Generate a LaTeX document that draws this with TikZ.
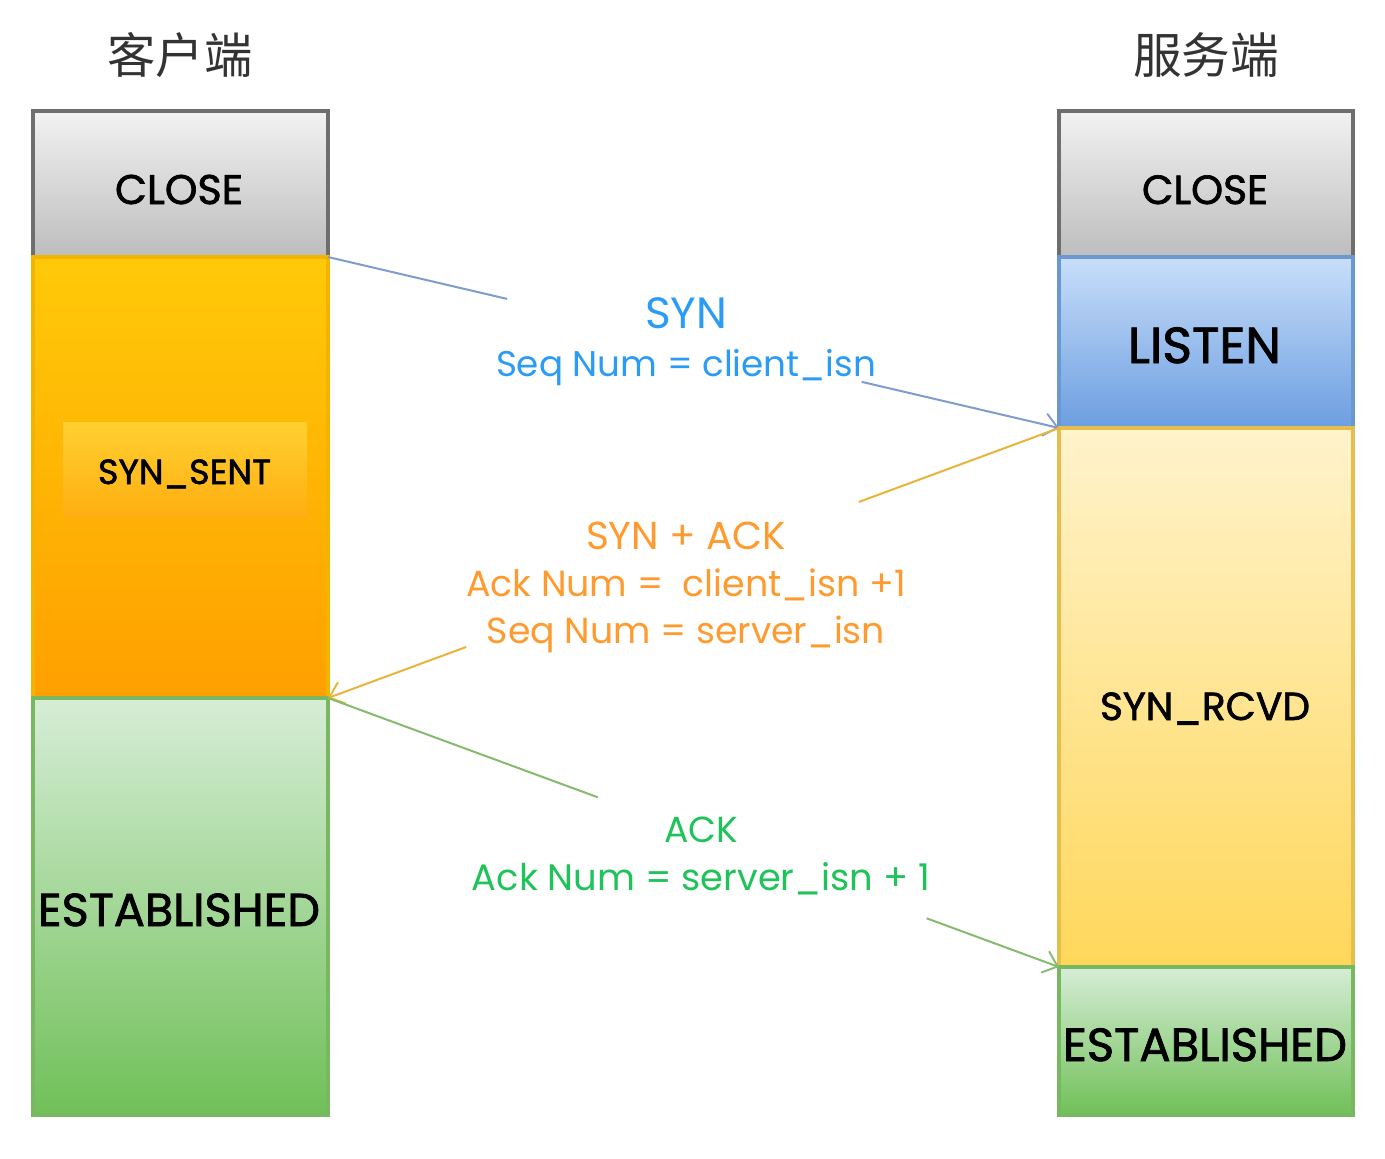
\documentclass[tikz,border=0pt]{standalone}
\usepackage{fontspec}
\setmainfont{Poppins}
\newfontfamily\labf{Poppins}[FakeBold=1.6]
\newfontfamily\cjk{Noto Sans CJK SC}
\usetikzlibrary{arrows.meta,calc}
\newdimen\pxu \pxu=0.75pt
\newcommand\fw[2]{\resizebox{#1\pxu}{!}{#2}}
\definecolor{gtop}{HTML}{F2F2F2}\definecolor{gbot}{HTML}{BDBDBD}\definecolor{gbrd}{HTML}{6E6E6E}
\definecolor{ytop}{HTML}{FFC908}\definecolor{ybot}{HTML}{FFA000}\definecolor{ybrd}{HTML}{F2B400}
\definecolor{itop}{HTML}{FFD030}\definecolor{ibot}{HTML}{FFAE10}
\definecolor{ntop}{HTML}{D6EDD6}\definecolor{nbot}{HTML}{70C058}\definecolor{nbrd}{HTML}{78B860}
\definecolor{btop}{HTML}{C8DEFA}\definecolor{bbot}{HTML}{6C9EE0}\definecolor{bbrd}{HTML}{6A98D0}
\definecolor{ltop}{HTML}{FFF3CC}\definecolor{lbot}{HTML}{FFD75A}\definecolor{lbrd}{HTML}{E6BE4E}
\definecolor{lnblue}{HTML}{7F9CCC}\definecolor{lnorange}{HTML}{E8B53A}\definecolor{lngreen}{HTML}{84BB6E}
\definecolor{txblue}{HTML}{2B9CF5}\definecolor{txorange}{HTML}{FF9B2E}\definecolor{txgreen}{HTML}{1EC35A}
\tikzset{
  blk/.style={rectangle,inner sep=0pt,outer sep=0pt,line width=2.4pt},
  lcol/.style={blk,minimum width=221.25pt},
  rcol/.style={blk,minimum width=220.5pt},
  lab/.style={inner sep=0pt,anchor=base,text=black,font=\labf},
  msg/.style={inner sep=0pt,anchor=base},
  conn/.style={line width=1.5pt},
  tip/.style={-{Straight Barb[length=10pt,width=17pt,line width=1.4pt]}}
}
\begin{document}
\begin{tikzpicture}[x=0.75pt,y=-0.75pt]
\fill[white] (0,0) rectangle (1385,1158);
\useasboundingbox (0,0) rectangle (1385,1158);
% titles
\node[inner sep=0pt,text=black!80] (tl) at (180,55) {\fw{145}{\cjk 客户端}};
\node[inner sep=0pt,text=black!80] (tr) at (1206,55) {\fw{146}{\cjk 服务端}};
% left column
\node[lcol,minimum height=109.5pt,top color=gtop,bottom color=gbot,draw=gbrd,line width=3pt] (lclose) at (180.5,184) {};
\node[lcol,minimum height=330.75pt,top color=ytop,bottom color=ybot,draw=ybrd] (lsent) at (180.5,477.5) {};
\node[lcol,minimum height=312.75pt,top color=ntop,bottom color=nbot,draw=nbrd] (lest) at (180.5,906.5) {};
\node[blk,minimum width=183pt,minimum height=72pt,top color=itop,bottom color=ibot] (lsentbox) at (185,470) {};
% right column
\node[rcol,minimum height=109.5pt,top color=gtop,bottom color=gbot,draw=gbrd,line width=3pt] (rclose) at (1206,184) {};
\node[rcol,minimum height=128.25pt,top color=btop,bottom color=bbot,draw=bbrd] (rlisten) at (1206,342.5) {};
\node[rcol,minimum height=404.25pt,top color=ltop,bottom color=lbot,draw=lbrd] (rrcvd) at (1206,697.5) {};
\node[rcol,minimum height=111pt,top color=ntop,bottom color=nbot,draw=nbrd] (rest) at (1206,1041) {};
% state labels
\node[lab] (tlclose) at (179,204) {\fw{128}{CLOSE}};
\node[lab] (tlsent) at (184.5,484) {\fw{173}{SYN\_SENT}};
\node[lab] (tlest) at (179,926) {\fw{282}{ESTABLISHED}};
\node[lab] (trclose) at (1205,204) {\fw{126}{CLOSE}};
\node[lab] (trlisten) at (1204.5,363) {\fw{153}{LISTEN}};
\node[lab] (trrcvd) at (1205,720) {\fw{210}{SYN\_RCVD}};
\node[lab] (trest) at (1205,1061) {\fw{284}{ESTABLISHED}};
% messages
\node[msg,text=txblue] (m1a) at (686,328) {\fw{82}{SYN}};
\node[msg,text=txblue] (m1b) at (686,376) {\fw{380}{Seq Num = client\_isn}};
\node[msg,text=txorange] (m2a) at (686,549) {\fw{200}{SYN + ACK}};
\node[msg,text=txorange] (m2b) at (686,596) {\fw{440}{Ack Num =\ \ client\_isn +1}};
\node[msg,text=txorange] (m2c) at (686,643) {\fw{398}{Seq Num = server\_isn}};
\node[msg,text=txgreen] (m3a) at (701,842) {\fw{74}{ACK}};
\node[msg,text=txgreen] (m3b) at (701,890) {\fw{458}{Ack Num = server\_isn + 1}};
% connectors
\draw[conn,lnblue] (lsent.north east) -- ($(lsent.north east)!0.245!(rrcvd.north west)$);
\draw[conn,lnblue,tip] ($(lsent.north east)!0.73!(rrcvd.north west)$) -- (rrcvd.north west);
\draw[conn,lnorange] (rrcvd.north west) -- ($(rrcvd.north west)!0.274!(lsent.south east)$);
\draw[conn,lnorange,tip] ($(rrcvd.north west)!0.811!(lsent.south east)$) -- (lsent.south east);
\draw[conn,lngreen] (lsent.south east) -- ($(lsent.south east)!0.369!(rest.north west)$);
\draw[conn,lngreen,tip] ($(lsent.south east)!0.819!(rest.north west)$) -- (rest.north west);
\end{tikzpicture}
\end{document}
